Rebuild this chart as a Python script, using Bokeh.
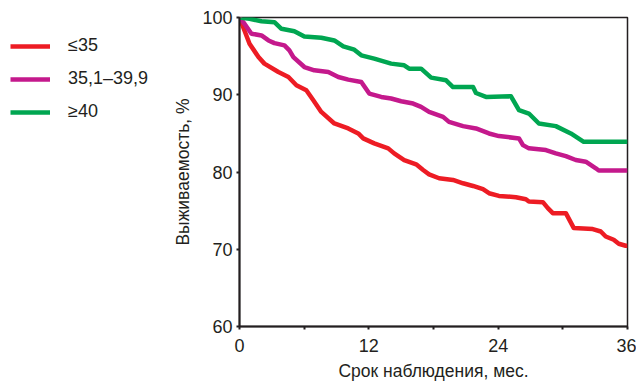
from bokeh.plotting import figure
from bokeh.models import Legend, LegendItem, FixedTicker, Range1d
from bokeh.layouts import row
from bokeh.embed import file_html
from bokeh.resources import INLINE

# Follow-up, months / survival, %
red_x = [0, 0.46, 0.93, 1.76, 2.31, 3.61, 4.54, 5.28, 6.2, 6.85, 7.59, 8.8, 10.09, 11.02, 11.48,
         12.5, 13.8, 14.35, 15.28, 16.39, 17.04, 17.59, 18.52, 19.81, 20.74, 21.67, 22.59, 23.15,
         24.07, 25.65, 26.57, 26.85, 28.15, 28.61, 29.07, 30.28, 31.02, 32.78, 33.52, 33.98,
         34.72, 35.19, 35.83, 36]
red_y = [100, 98.32, 96.61, 94.88, 94.03, 92.94, 92.3, 91.23, 90.58, 89.29, 87.78, 86.28, 85.64,
         84.99, 84.35, 83.7, 83.06, 82.41, 81.55, 80.99, 80.26, 79.7, 79.19, 78.97, 78.54, 78.19,
         77.77, 77.25, 76.9, 76.74, 76.48, 76.17, 76.1, 75.32, 74.67, 74.67, 72.74, 72.61, 72.3,
         71.65, 71.23, 70.71, 70.45, 70.45]

mag_x = [0, 0.46, 1.11, 2.04, 2.69, 3.24, 4.17, 4.63, 5.0, 6.02, 6.94, 8.24, 9.17, 10.09, 11.3,
         12.04, 13.15, 14.07, 15.0, 16.11, 16.85, 17.59, 18.89, 19.44, 20.74, 21.94, 23.15, 24.07,
         25.93, 26.3, 26.85, 28.43, 29.35, 30.28, 31.2, 32.13, 33.06, 33.33, 36]
mag_y = [100, 99.19, 97.9, 97.68, 97.03, 96.68, 96.39, 95.74, 94.88, 93.59, 93.16, 92.94, 92.3,
         91.96, 91.65, 90.15, 89.72, 89.51, 89.16, 88.86, 88.43, 87.78, 87.14, 86.49, 85.94, 85.64,
         84.99, 84.65, 84.35, 83.48, 83.06, 82.84, 82.41, 82.06, 81.55, 81.33, 80.48, 80.2, 80.2]

grn_x = [0, 0.93, 2.04, 3.24, 3.89, 5.09, 6.02, 7.59, 8.8, 9.63, 10.65, 11.3, 12.5, 14.07, 15.28,
         15.74, 16.85, 17.78, 19.17, 19.81, 21.67, 21.94, 22.87, 25.19, 25.93, 26.85, 27.78, 29.35,
         30.74, 31.94, 36]
grn_y = [100, 99.83, 99.52, 99.39, 98.54, 98.23, 97.55, 97.38, 97.03, 96.26, 95.83, 95.1, 94.67,
         94.03, 93.81, 93.38, 93.38, 92.22, 91.87, 91.0, 91.0, 90.23, 89.72, 89.8, 88.0, 87.57,
         86.28, 85.94, 84.99, 83.9, 83.9]

labels = ["≤35", "35,1–39,9", "≥40"]
colors = ["#ED1C24", "#C4198C", "#00A651"]
x_ticks = [0, 12, 24, 36]
x_minor = [6, 18, 30]
y_ticks = [60, 70, 80, 90, 100]
series = [(red_x, red_y), (mag_x, mag_y), (grn_x, grn_y)]

ink = "#231F20"
LW = 4.5

# ---- legend figure (left strip) ----
lf = figure(width=170, height=383, x_range=Range1d(100, 200), y_range=Range1d(100, 200),
            output_backend="svg", toolbar_location=None, x_axis_type=None, y_axis_type=None,
            min_border_left=0, min_border_right=0, min_border_top=0, min_border_bottom=0)
lf.outline_line_color = None
lf.grid.visible = False
lrs = [lf.line(xs, ys, line_color=c, line_width=LW) for (xs, ys), c in zip(series, colors)]
legend = Legend(items=[LegendItem(label=l, renderers=[r]) for l, r in zip(labels, lrs)],
                location=(10, 204))
legend.margin = 0
legend.padding = 0
legend.border_line_color = None
legend.background_fill_alpha = 0
legend.glyph_width = 40
legend.glyph_height = 20
legend.label_height = 20
legend.spacing = 12
legend.label_standoff = 18
legend.label_text_font = "Liberation Sans"
legend.label_text_font_size = "18px"
legend.label_text_color = ink
lf.add_layout(legend, "center")

# ---- main plot ----
p = figure(width=466, height=383, x_range=Range1d(0, 36), y_range=Range1d(60, 100),
           output_backend="svg", toolbar_location=None,
           min_border_left=68, min_border_right=9, min_border_top=17, min_border_bottom=56)
p.background_fill_color = "white"
p.border_fill_color = "white"
p.grid.visible = False
p.outline_line_color = ink
p.outline_line_width = 1.5

for (xs, ys), c in zip(series, colors):
    p.line(xs, ys, line_color=c, line_width=LW, line_join="round")

p.xaxis.ticker = FixedTicker(ticks=x_ticks, minor_ticks=x_minor)
p.yaxis.ticker = FixedTicker(ticks=y_ticks)
for ax in (p.xaxis, p.yaxis):
    ax.axis_line_color = ink
    ax.axis_line_width = 2
    ax.major_tick_line_color = ink
    ax.major_tick_line_width = 2
    ax.major_tick_out = 3
    ax.major_tick_in = 0
    ax.minor_tick_line_color = ink
    ax.minor_tick_line_width = 2
    ax.minor_tick_out = 3
    ax.minor_tick_in = 0
    ax.major_label_text_font = "Liberation Sans"
    ax.major_label_text_font_size = "18px"
    ax.major_label_text_color = ink
    ax.axis_label_text_font = "Liberation Sans"
    ax.axis_label_text_font_size = "17.5px"
    ax.axis_label_text_font_style = "normal"
    ax.axis_label_text_color = ink
p.yaxis.minor_tick_line_color = None
p.xaxis.axis_label = "Срок наблюдения, мес."
p.yaxis.axis_label = "Выживаемость, %"
p.xaxis.major_label_standoff = 9
p.yaxis.major_label_standoff = 4
p.xaxis.axis_label_standoff = 6
p.yaxis.axis_label_standoff = 6

open("out.html", "w").write(file_html(row(lf, p), INLINE))
